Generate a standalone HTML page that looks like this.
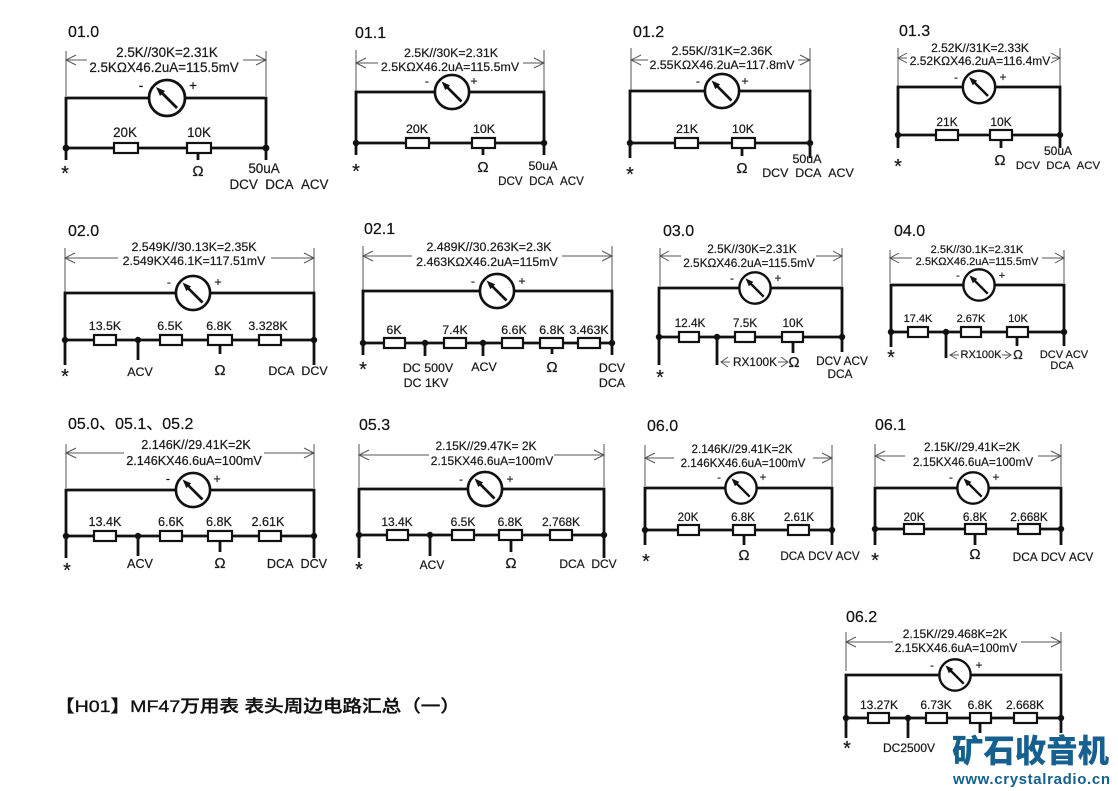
<!DOCTYPE html>
<html><head><meta charset="utf-8"><style>
html,body{margin:0;padding:0;background:#fff}
svg{display:block}
text{font-family:"Liberation Sans","Noto Sans CJK SC",sans-serif;text-anchor:middle;fill:#1a1a1a;stroke:#1a1a1a;stroke-width:.22}
.t{font-size:16px;text-anchor:start;fill:#111}
.d{stroke:#555;stroke-width:1;fill:none}
.w{stroke:#111;stroke-width:2.8;fill:none}
.r{stroke:#111;stroke-width:2.2;fill:#fff}
.s{font-size:20px}
.o{font-size:15px}
circle.n{fill:#111}
</style></head><body>
<svg width="1118" height="791" viewBox="0 0 1118 791" xmlns="http://www.w3.org/2000/svg">
<defs>
<g id="m"><circle r="18" fill="#fff" stroke="#111" stroke-width="2.8"/><path d="M10 10L-6-6" stroke="#111" stroke-width="2.8"/><path d="M-11-11L-2-7-7-2Z" fill="#111"/></g>
</defs>
<rect width="1118" height="791" fill="#fff"/>

<!-- 01.0 -->
<g font-size="13.4">
<text class="t" x="68" y="37">01.0</text>
<path class="d" d="M66 51V96M266 51V96M66 60h21M76 55l-10 5 10 5M266 60h-23M256 55l10 5-10 5"/>
<text x="167" y="57">2.5K//30K=2.31K</text><text x="164" y="72">2.5KΩX46.2uA=115.5mV</text>
<path class="w" d="M66 160V98H266V160M66 148H266M198 153V160"/>
<use href="#m" x="167" y="98"/>
<rect class="r" x="114" y="143" width="24" height="10"/><rect class="r" x="187" y="143" width="24" height="10"/>
<circle class="n" cx="66" cy="148" r="3.4"/><circle class="n" cx="266" cy="148" r="3.4"/>
<text x="141" y="90">-</text><text x="193" y="90">+</text>
<text x="125" y="137">20K</text><text x="199" y="137">10K</text>
<text class="s" x="65" y="180">*</text><text class="o" x="198" y="176">Ω</text>
<text x="264" y="173">50uA</text><text x="279" y="189">DCV&#160;&#160;DCA&#160;&#160;ACV</text>
</g>

<!-- 01.1 -->
<g font-size="12.4">
<text class="t" x="355" y="38">01.1</text>
<path class="d" d="M356 50V91M544 50V91M356 63h22M366 58l-10 5 10 5M544 63h-21M534 58l10 5-10 5"/>
<text x="451" y="57">2.5K//30K=2.31K</text><text x="450" y="71">2.5KΩX46.2uA=115.5mV</text>
<path class="w" d="M356 155V92H544V155M356 143H544M483 148V155"/>
<use href="#m" x="452" y="92" transform="translate(452 92) scale(.95) translate(-452 -92)"/>
<rect class="r" x="406" y="138" width="23" height="10"/><rect class="r" x="472" y="138" width="23" height="10"/>
<circle class="n" cx="356" cy="143" r="3.2"/><circle class="n" cx="544" cy="143" r="3.2"/>
<text x="427" y="85">-</text><text x="474" y="85">+</text>
<text x="417" y="133">20K</text><text x="484" y="133">10K</text>
<text class="s" x="356" y="178">*</text><text class="o" x="483" y="172">Ω</text>
<text x="543" y="170">50uA</text><text x="541" y="185" font-size="11.6">DCV&#160;&#160;DCA&#160;&#160;ACV</text>
</g>

<!-- 01.2 -->
<g font-size="12.4">
<text class="t" x="633" y="37">01.2</text>
<path class="d" d="M631 48V90M810 48V90M631 60h17M641 55l-10 5 10 5M810 60h-12M800 55l10 5-10 5"/>
<text x="722" y="55">2.55K//31K=2.36K</text><text x="722" y="69">2.55KΩX46.2uA=117.8mV</text>
<path class="w" d="M630 158V91H810V158M630 143H810M742 148V156"/>
<use href="#m" x="722" y="91" transform="translate(722 91) scale(.95) translate(-722 -91)"/>
<rect class="r" x="675" y="138" width="23" height="10"/><rect class="r" x="732" y="138" width="23" height="10"/>
<circle class="n" cx="630" cy="143" r="3.2"/><circle class="n" cx="810" cy="143" r="3.2"/>
<text x="698" y="85">-</text><text x="745" y="85">+</text>
<text x="687" y="133">21K</text><text x="743" y="133">10K</text>
<text class="s" x="630" y="181">*</text><text class="o" x="742" y="173">Ω</text>
<text x="807" y="163">50uA</text><text x="808" y="177">DCV&#160;&#160;DCA&#160;&#160;ACV</text>
</g>

<!-- 01.3 -->
<g font-size="12">
<text class="t" x="899" y="36">01.3</text>
<path class="d" d="M898 48V86M1060 48V86M898 58h9M907 53l-9 5 9 5M1060 58h-8M1051 53l9 5-9 5"/>
<text x="980" y="52">2.52K//31K=2.33K</text><text x="980" y="65">2.52KΩX46.2uA=116.4mV</text>
<path class="w" d="M898 148V87H1060V148M898 135H1060M1001 140V148"/>
<use href="#m" x="979" y="87" transform="translate(979 87) scale(.9) translate(-979 -87)"/>
<rect class="r" x="936" y="130" width="22" height="10"/><rect class="r" x="990" y="130" width="22" height="10"/>
<circle class="n" cx="898" cy="135" r="3.2"/><circle class="n" cx="1060" cy="135" r="3.2"/>
<text x="956" y="81">-</text><text x="1003" y="81">+</text>
<text x="947" y="126">21K</text><text x="1001" y="126">10K</text>
<text class="s" x="898" y="173">*</text><text class="o" x="1000" y="165">Ω</text>
<text x="1058" y="155">50uA</text><text x="1058" y="169" font-size="11.4">DCV&#160;&#160;DCA&#160;&#160;ACV</text>
</g>

<!-- 02.0 -->
<g font-size="12.4">
<text class="t" x="68" y="236">02.0</text>
<path class="d" d="M65 248V292M314 248V292M65 258h53M75 253l-10 5 10 5M314 258h-43M304 253l10 5-10 5"/>
<text x="194" y="251">2.549K//30.13K=2.35K</text><text x="194" y="265">2.549KX46.1K=117.51mV</text>
<path class="w" d="M65 365V293H314V365M65 340H314M138 340V360M220 345V354"/>
<use href="#m" x="193" y="293" transform="translate(193 293) scale(.95) translate(-193 -293)"/>
<rect class="r" x="94" y="335" width="22" height="10"/><rect class="r" x="160" y="335" width="22" height="10"/><rect class="r" x="208" y="335" width="24" height="10"/><rect class="r" x="259" y="335" width="22" height="10"/>
<circle class="n" cx="65" cy="340" r="3.2"/><circle class="n" cx="138" cy="340" r="3.2"/><circle class="n" cx="314" cy="340" r="3.2"/>
<text x="169" y="286">-</text><text x="218" y="286">+</text>
<text x="105" y="330">13.5K</text><text x="170" y="330">6.5K</text><text x="219" y="330">6.8K</text><text x="268" y="330">3.328K</text>
<text class="s" x="65" y="383">*</text><text x="140" y="376">ACV</text><text class="o" x="220" y="375">Ω</text><text x="298" y="375">DCA&#160;&#160;DCV</text>
</g>

<!-- 02.1 -->
<g font-size="12.4">
<text class="t" x="364" y="234">02.1</text>
<path class="d" d="M363 246V290M612 246V290M363 256h49M373 251l-10 5 10 5M612 256h-50M602 251l10 5-10 5"/>
<text x="489" y="251">2.489K//30.263K=2.3K</text><text x="487" y="266">2.463KΩX46.2uA=115mV</text>
<path class="w" d="M363 355V291H612V355M363 343H612M425 343V356M483 343V356M552 348V354"/>
<use href="#m" x="497" y="291" transform="translate(497 291) scale(.95) translate(-497 -291)"/>
<rect class="r" x="384" y="338" width="21" height="10"/><rect class="r" x="444" y="338" width="22" height="10"/><rect class="r" x="502" y="338" width="21" height="10"/><rect class="r" x="540" y="338" width="23" height="10"/><rect class="r" x="578" y="338" width="22" height="10"/>
<circle class="n" cx="363" cy="343" r="3.2"/><circle class="n" cx="425" cy="343" r="3.2"/><circle class="n" cx="483" cy="343" r="3.2"/><circle class="n" cx="612" cy="343" r="3.2"/>
<text x="473" y="285">-</text><text x="522" y="285">+</text>
<text x="394" y="334">6K</text><text x="455" y="334">7.4K</text><text x="514" y="334">6.6K</text><text x="552" y="334">6.8K</text><text x="589" y="334">3.463K</text>
<text class="s" x="363" y="376">*</text>
<text x="428" y="372">DC 500V</text><text x="426" y="387">DC 1KV</text><text x="484" y="371">ACV</text><text class="o" x="552" y="372">Ω</text><text x="612" y="372">DCV</text><text x="612" y="387">DCA</text>
</g>

<!-- 03.0 -->
<g font-size="11.8">
<text class="t" x="663" y="236">03.0</text>
<path class="d" d="M660 248V286M842 248V286M660 256h21M669 251l-9 5 9 5M842 256h-26M833 251l9 5-9 5"/>
<text x="752" y="253">2.5K//30K=2.31K</text><text x="749" y="267">2.5KΩX46.2uA=115.5mV</text>
<path class="w" d="M659 365V288H842V352M659 337H842M717 337V365M793 343V353"/>
<use href="#m" x="755" y="288" transform="translate(755 288) scale(.87) translate(-755 -288)"/>
<rect class="r" x="679" y="332" width="20" height="10"/><rect class="r" x="735" y="332" width="20" height="10"/><rect class="r" x="782" y="332" width="21" height="10"/>
<circle class="n" cx="659" cy="337" r="3.2"/><circle class="n" cx="717" cy="337" r="3.2"/><circle class="n" cx="842" cy="337" r="3.2"/>
<text x="732" y="282">-</text><text x="778" y="282">+</text>
<text x="690" y="327">12.4K</text><text x="745" y="327">7.5K</text><text x="793" y="327">10K</text>
<path class="d" d="M721 362h9M728 357l-7 5 7 5M778 362h9M781 357l7 5-7 5"/>
<text x="755" y="366">RX100K</text><text class="o" x="794" y="367">Ω</text>
<text class="s" x="660" y="384">*</text><text x="842" y="365">DCV ACV</text><text x="840" y="378">DCA</text>
</g>

<!-- 04.0 -->
<g font-size="11">
<text class="t" x="894" y="236">04.0</text>
<path class="d" d="M890 250V283M1064 250V283M890 258h22M899 253l-9 5 9 5M1064 258h-22M1055 253l9 5-9 5"/>
<text x="977" y="253">2.5K//30.1K=2.31K</text><text x="977" y="265">2.5KΩX46.2uA=115.5mV</text>
<path class="w" d="M891 347V285H1064V346M891 332H1064M946 332V358M1017 337V346"/>
<use href="#m" x="979" y="285" transform="translate(979 285) scale(.87) translate(-979 -285)"/>
<rect class="r" x="908" y="327" width="20" height="10"/><rect class="r" x="961" y="327" width="20" height="10"/><rect class="r" x="1007" y="327" width="21" height="10"/>
<circle class="n" cx="891" cy="332" r="3.2"/><circle class="n" cx="946" cy="332" r="3.2"/><circle class="n" cx="1064" cy="332" r="3.2"/>
<text x="958" y="279">-</text><text x="1002" y="279">+</text>
<text x="918" y="322">17.4K</text><text x="971" y="322">2.67K</text><text x="1018" y="322">10K</text>
<path class="d" d="M950 355h9M957 351l-7 4 7 4M1002 355h8M1005 351l6 4-6 4"/>
<text x="981" y="358">RX100K</text><text class="o" x="1018" y="359" style="font-size:13px">Ω</text>
<text class="s" x="891" y="364">*</text><text x="1064" y="358">DCV ACV</text><text x="1062" y="369">DCA</text>
</g>

<!-- 05.0 -->
<g font-size="12.6">
<text class="t" x="68" y="429">05.0、05.1、05.2</text>
<path class="d" d="M66 444V488M314 444V488M66 453h58M76 448l-10 5 10 5M314 453h-50M304 448l10 5-10 5"/>
<text x="196" y="449">2.146K//29.41K=2K</text><text x="194" y="465">2.146KX46.6uA=100mV</text>
<path class="w" d="M66 558V490H314V558M66 536H314M138 536V556M220 541V552"/>
<use href="#m" x="193" y="490" transform="translate(193 490) scale(.95) translate(-193 -490)"/>
<rect class="r" x="94" y="531" width="22" height="10"/><rect class="r" x="160" y="531" width="22" height="10"/><rect class="r" x="208" y="531" width="24" height="10"/><rect class="r" x="259" y="531" width="22" height="10"/>
<circle class="n" cx="66" cy="536" r="3.2"/><circle class="n" cx="138" cy="536" r="3.2"/><circle class="n" cx="314" cy="536" r="3.2"/>
<text x="168" y="483">-</text><text x="217" y="483">+</text>
<text x="105" y="526">13.4K</text><text x="171" y="526">6.6K</text><text x="219" y="526">6.8K</text><text x="268" y="526">2.61K</text>
<text class="s" x="67" y="577">*</text><text x="140" y="568">ACV</text><text class="o" x="220" y="568">Ω</text><text x="297" y="568">DCA&#160;&#160;DCV</text>
</g>

<!-- 05.3 -->
<g font-size="12">
<text class="t" x="359" y="430">05.3</text>
<path class="d" d="M359 444V487M604 444V487M359 455h70M369 450l-10 5 10 5M604 455h-50M594 450l10 5-10 5"/>
<text x="486" y="450">2.15K//29.47K= 2K</text><text x="492" y="465">2.15KX46.6uA=100mV</text>
<path class="w" d="M359 558V489H604V558M359 535H604M430 535V556M511 540V552"/>
<use href="#m" x="485" y="489" transform="translate(485 489) scale(.95) translate(-485 -489)"/>
<rect class="r" x="387" y="530" width="21" height="10"/><rect class="r" x="452" y="530" width="22" height="10"/><rect class="r" x="499" y="530" width="23" height="10"/><rect class="r" x="550" y="530" width="22" height="10"/>
<circle class="n" cx="359" cy="535" r="3.2"/><circle class="n" cx="430" cy="535" r="3.2"/><circle class="n" cx="604" cy="535" r="3.2"/>
<text x="461" y="483">-</text><text x="510" y="483">+</text>
<text x="397" y="526">13.4K</text><text x="463" y="526">6.5K</text><text x="510" y="526">6.8K</text><text x="561" y="526">2.768K</text>
<text class="s" x="359" y="576">*</text><text x="432" y="569">ACV</text><text class="o" x="511" y="568">Ω</text><text x="588" y="568">DCA&#160;&#160;DCV</text>
</g>

<!-- 06.0 -->
<g font-size="11.6">
<text class="t" x="647" y="431">06.0</text>
<path class="d" d="M645 445V486M832 445V486M645 458h29M655 453l-10 5 10 5M832 458h-19M822 453l10 5-10 5"/>
<text x="742" y="453">2.146K//29.41K=2K</text><text x="743" y="467">2.146KX46.6uA=100mV</text>
<path class="w" d="M645 545V488H832V545M645 530H832M744 535V545"/>
<use href="#m" x="741" y="488" transform="translate(741 488) scale(.87) translate(-741 -488)"/>
<rect class="r" x="678" y="525" width="21" height="10"/><rect class="r" x="733" y="525" width="22" height="10"/><rect class="r" x="788" y="525" width="21" height="10"/>
<circle class="n" cx="645" cy="530" r="3.2"/><circle class="n" cx="832" cy="530" r="3.2"/>
<text x="719" y="481">-</text><text x="763" y="481">+</text>
<text x="688" y="521">20K</text><text x="743" y="521">6.8K</text><text x="799" y="521">2.61K</text>
<text class="s" x="646" y="568">*</text><text class="o" x="744" y="560">Ω</text><text x="820" y="560">DCA&#160;DCV&#160;ACV</text>
</g>

<!-- 06.1 -->
<g font-size="11.8">
<text class="t" x="875" y="430">06.1</text>
<path class="d" d="M875 444V486M1061 444V486M875 456h30M885 451l-10 5 10 5M1061 456h-23M1051 451l10 5-10 5"/>
<text x="972" y="451">2.15K//29.41K=2K</text><text x="973" y="466">2.15KX46.6uA=100mV</text>
<path class="w" d="M875 545V488H1061V545M875 529H1061M975 534V545"/>
<use href="#m" x="973" y="488" transform="translate(973 488) scale(.87) translate(-973 -488)"/>
<rect class="r" x="904" y="524" width="20" height="10"/><rect class="r" x="965" y="524" width="21" height="10"/><rect class="r" x="1018" y="524" width="22" height="10"/>
<circle class="n" cx="875" cy="529" r="3.2"/><circle class="n" cx="1061" cy="529" r="3.2"/>
<text x="951" y="481">-</text><text x="996" y="481">+</text>
<text x="914" y="521">20K</text><text x="975" y="521">6.8K</text><text x="1029" y="521">2.668K</text>
<text class="s" x="875" y="567">*</text><text class="o" x="975" y="559">Ω</text><text x="1053" y="561">DCA&#160;DCV&#160;ACV</text>
</g>

<!-- 06.2 -->
<g font-size="12">
<text class="t" x="846" y="622">06.2</text>
<path class="d" d="M846 632V671M1061 632V671M846 642h47M856 637l-10 5 10 5M1061 642h-40M1051 637l10 5-10 5"/>
<text x="955" y="638">2.15K//29.468K=2K</text><text x="956" y="652">2.15KX46.6uA=100mV</text>
<path class="w" d="M846 738V675H1061V735M846 718H1061M908 718V738M980 723V733"/>
<use href="#m" x="955" y="675" transform="translate(955 675) scale(.87) translate(-955 -675)"/>
<rect class="r" x="868" y="713" width="21" height="10"/><rect class="r" x="926" y="713" width="21" height="10"/><rect class="r" x="970" y="713" width="21" height="10"/><rect class="r" x="1014" y="713" width="23" height="10"/>
<circle class="n" cx="846" cy="718" r="3.2"/><circle class="n" cx="908" cy="718" r="3.2"/><circle class="n" cx="1061" cy="718" r="3.2"/>
<text x="932" y="669">-</text><text x="979" y="669">+</text>
<text x="879" y="709">13.27K</text><text x="936" y="709">6.73K</text><text x="980" y="709">6.8K</text><text x="1025" y="709">2.668K</text>
<text class="s" x="847" y="755">*</text><text x="909" y="752">DC2500V</text>
</g>

<!-- Title -->
<text x="55" y="712" textLength="405" lengthAdjust="spacingAndGlyphs" style="text-anchor:start;font-size:17px;font-weight:500;fill:#111;stroke:#111;stroke-width:.35">【H01】MF47万用表 表头周边电路汇总（一）</text>

<!-- Watermark -->
<text x="952" y="762" textLength="157" lengthAdjust="spacingAndGlyphs" style="text-anchor:start;font-size:32px;font-weight:900;fill:#15608f;stroke:#fff;stroke-width:3;paint-order:stroke">矿石收音机</text>
<text x="953" y="784" textLength="157" lengthAdjust="spacing" style="text-anchor:start;font-size:15px;font-weight:700;fill:#15608f;stroke:none">www.crystalradio.cn</text>
</svg>
</body></html>
